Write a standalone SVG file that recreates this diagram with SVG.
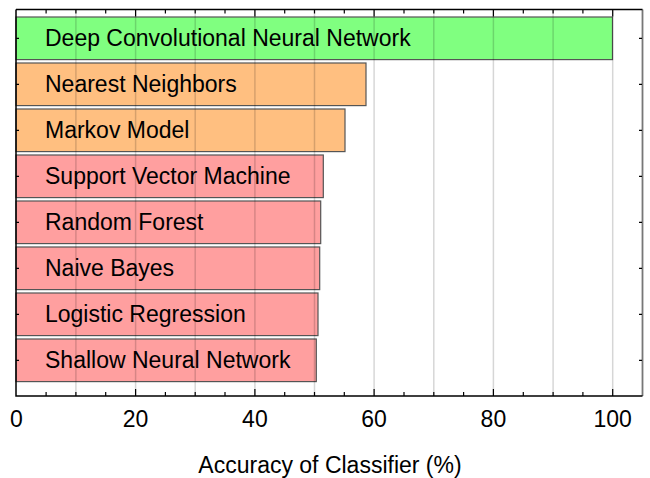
<svg xmlns="http://www.w3.org/2000/svg" width="650" height="478" viewBox="0 0 650 478">
<style>
text{font-family:"Liberation Sans",Arial,sans-serif;fill:#000}
.lbl{font-size:23px}
.num{font-size:23px;text-anchor:middle}
.bar{stroke:#555;stroke-width:1.2}
.g{fill:#80ff80}.o{fill:#ffbf80}.r{fill:#ff9f9f}
.grid{stroke:#000;stroke-opacity:0.16;stroke-width:1.5}
.ax{stroke:#000;stroke-width:1.5;fill:none}
.tk{stroke:#000;stroke-width:1.2}
</style>
<rect width="650" height="478" fill="#fff"/>
<g id="bars">
<g id="n1"><rect class="bar g" x="16" y="17" width="596.5" height="42.6"/><text class="lbl" x="45" y="46">Deep Convolutional Neural Network</text></g>
<g id="n2"><rect class="bar o" x="16" y="63" width="350" height="42.6"/><text class="lbl" x="45" y="92">Nearest Neighbors</text></g>
<g id="n3"><rect class="bar o" x="16" y="109" width="329" height="42.6"/><text class="lbl" x="45" y="138">Markov Model</text></g>
<g id="n4"><rect class="bar r" x="16" y="155" width="307.3" height="42.6"/><text class="lbl" x="45" y="184">Support Vector Machine</text></g>
<g id="n5"><rect class="bar r" x="16" y="201" width="304.7" height="42.6"/><text class="lbl" x="45" y="230">Random Forest</text></g>
<g id="n6"><rect class="bar r" x="16" y="247" width="303.7" height="42.6"/><text class="lbl" x="45" y="276">Naive Bayes</text></g>
<g id="n7"><rect class="bar r" x="16" y="293" width="302" height="42.6"/><text class="lbl" x="45" y="322">Logistic Regression</text></g>
<g id="n8"><rect class="bar r" x="16" y="339" width="300.3" height="42.6"/><text class="lbl" x="45" y="368">Shallow Neural Network</text></g>
</g>
<g id="grid">
<line class="grid" x1="75.9" y1="10" x2="75.9" y2="395.5"/>
<line class="grid" x1="135.6" y1="10" x2="135.6" y2="395.5"/>
<line class="grid" x1="195.2" y1="10" x2="195.2" y2="395.5"/>
<line class="grid" x1="254.9" y1="10" x2="254.9" y2="395.5"/>
<line class="grid" x1="314.5" y1="10" x2="314.5" y2="395.5"/>
<line class="grid" x1="374.1" y1="10" x2="374.1" y2="395.5"/>
<line class="grid" x1="433.8" y1="10" x2="433.8" y2="395.5"/>
<line class="grid" x1="493.4" y1="10" x2="493.4" y2="395.5"/>
<line class="grid" x1="553.1" y1="10" x2="553.1" y2="395.5"/>
<line class="grid" x1="612.7" y1="10" x2="612.7" y2="395.5"/>
</g>
<g id="axes">
<line x1="642.5" y1="9.5" x2="642.5" y2="396" stroke="#777" stroke-width="1.8"/>
<path class="ax" d="M16,9.5 H642.5 M16,9.5 V396 H642.5"/>
<path class="tk" d="M46.1,396v-4 M75.9,396v-4 M105.7,396v-4 M135.6,396v-7 M165.4,396v-4 M195.2,396v-4 M225,396v-4 M254.9,396v-7 M284.7,396v-4 M314.5,396v-4 M344.3,396v-4 M374.1,396v-7 M404,396v-4 M433.8,396v-4 M463.6,396v-4 M493.4,396v-7 M523.3,396v-4 M553.1,396v-4 M582.9,396v-4 M612.7,396v-7"/>
<path class="tk" d="M46.1,9.5v4 M75.9,9.5v4 M105.7,9.5v4 M135.6,9.5v7 M165.4,9.5v4 M195.2,9.5v4 M225,9.5v4 M254.9,9.5v7 M284.7,9.5v4 M314.5,9.5v4 M344.3,9.5v4 M374.1,9.5v7 M404,9.5v4 M433.8,9.5v4 M463.6,9.5v4 M493.4,9.5v7 M523.3,9.5v4 M553.1,9.5v4 M582.9,9.5v4 M612.7,9.5v7"/>
<path class="tk" d="M16,38.3h3 M16,84.3h3 M16,130.3h3 M16,176.3h3 M16,222.3h3 M16,268.3h3 M16,314.3h3 M16,360.3h3"/>
<path class="tk" d="M642,38.3h-3 M642,84.3h-3 M642,130.3h-3 M642,176.3h-3 M642,222.3h-3 M642,268.3h-3 M642,314.3h-3 M642,360.3h-3"/>
<text class="num" x="16.3" y="426.5">0</text>
<text class="num" x="135.6" y="426.5">20</text>
<text class="num" x="254.9" y="426.5">40</text>
<text class="num" x="374.1" y="426.5">60</text>
<text class="num" x="493.4" y="426.5">80</text>
<text class="num" x="612.7" y="426.5">100</text>
<text class="num" x="330" y="473.3">Accuracy of Classifier (%)</text>
</g>
</svg>
